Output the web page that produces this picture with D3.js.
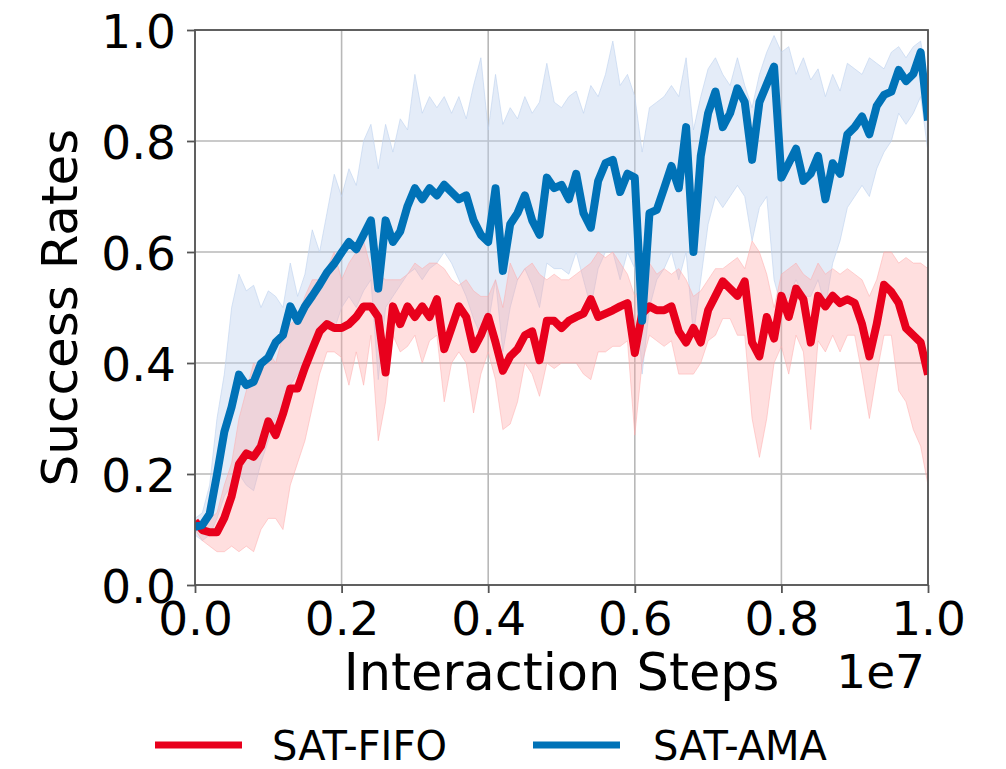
<!DOCTYPE html>
<html>
<head>
<meta charset="utf-8">
<script src="https://cdn.jsdelivr.net/npm/d3@7"></script>
<style>
  html, body { margin: 0; padding: 0; background: #ffffff; }
  svg { display: block; font-family: "DejaVu Sans", sans-serif; }
</style>
</head>
<body>
<svg id="chart" width="1006" height="769"></svg>
<script>
// Interaction steps (in millions)
const steps = [
  0.0,0.1,0.2,0.3,0.4,0.5,0.6,0.7,0.8,0.9,
  1.0,1.1,1.2,1.3,1.4,1.5,1.6,1.7,1.8,1.9,
  2.0,2.1,2.2,2.3,2.4,2.5,2.6,2.7,2.8,2.9,
  3.0,3.1,3.2,3.3,3.4,3.5,3.6,3.7,3.8,3.9,
  4.0,4.1,4.2,4.3,4.4,4.5,4.6,4.7,4.8,4.9,
  5.0,5.1,5.2,5.3,5.4,5.5,5.6,5.7,5.8,5.9,
  6.0,6.1,6.2,6.3,6.4,6.5,6.6,6.7,6.8,6.9,
  7.0,7.1,7.2,7.3,7.4,7.5,7.6,7.7,7.8,7.9,
  8.0,8.1,8.2,8.3,8.4,8.5,8.6,8.7,8.8,8.9,
  9.0,9.1,9.2,9.3,9.4,9.5,9.6,9.7,9.8,9.9,
  10.0
];

// SAT-FIFO (red)
const fifoMean = [
  .115,.099,.095,.095,.121,.160,.218,.237,.231,.250,
  .295,.270,.308,.354,.354,.392,.425,.457,.470,.463,
  .463,.470,.483,.502,.502,.483,.383,.502,.470,.502,
  .483,.502,.483,.515,.425,.463,.502,.483,.425,.450,
  .483,.437,.386,.412,.425,.450,.457,.405,.476,.476,
  .463,.476,.483,.489,.515,.483,.489,.495,.502,.508,
  .418,.489,.502,.495,.495,.502,.457,.437,.463,.437,
  .495,.521,.547,.534,.521,.547,.437,.412,.483,.444,
  .521,.483,.534,.515,.437,.521,.502,.521,.508,.515,
  .508,.470,.412,.470,.541,.528,.508,.463,.450,.437,
  .379
];
const fifoLow = [
  .10,.08,.07,.06,.06,.07,.06,.07,.06,.10,
  .12,.12,.10,.18,.22,.26,.32,.38,.42,.42,
  .41,.36,.42,.36,.45,.26,.33,.45,.42,.43,
  .45,.40,.44,.45,.33,.40,.42,.40,.31,.38,
  .42,.37,.28,.29,.33,.40,.38,.34,.40,.39,
  .40,.40,.40,.38,.37,.42,.42,.43,.43,.44,
  .27,.40,.45,.44,.43,.44,.38,.38,.38,.40,
  .44,.45,.48,.48,.45,.45,.30,.23,.30,.40,
  .43,.38,.45,.42,.28,.44,.42,.45,.42,.45,
  .45,.38,.30,.38,.45,.45,.35,.33,.28,.25,
  .18
];
const fifoHigh = [
  .12,.11,.12,.13,.18,.22,.30,.35,.40,.38,
  .42,.40,.45,.47,.48,.52,.55,.55,.57,.60,
  .55,.58,.60,.62,.57,.56,.55,.55,.55,.56,
  .58,.57,.58,.58,.57,.55,.54,.55,.53,.52,
  .52,.55,.50,.58,.55,.57,.58,.56,.55,.56,
  .55,.55,.56,.57,.58,.60,.59,.60,.58,.56,
  .52,.54,.58,.56,.57,.56,.57,.55,.52,.53,
  .55,.57,.57,.58,.59,.57,.62,.60,.56,.50,
  .56,.57,.58,.56,.55,.58,.56,.57,.56,.57,
  .56,.55,.52,.55,.60,.60,.58,.59,.58,.58,
  .57
];

// SAT-AMA (blue)
const amaMean = [
  .105,.108,.128,.199,.276,.321,.379,.360,.366,.399,
  .410,.437,.450,.502,.476,.502,.521,.541,.563,.579,
  .599,.618,.605,.631,.657,.534,.657,.618,.637,.683,
  .715,.695,.715,.702,.721,.708,.695,.702,.657,.631,
  .618,.715,.566,.650,.670,.702,.657,.631,.734,.715,
  .721,.695,.741,.670,.644,.728,.760,.766,.708,.741,
  .734,.476,.670,.676,.715,.755,.715,.825,.600,.773,
  .850,.889,.825,.850,.895,.870,.766,.870,.902,.934,
  .734,.760,.786,.728,.741,.773,.695,.760,.741,.812,
  .825,.844,.812,.863,.883,.889,.928,.908,.921,.960,
  .837
];
const amaLow = [
  .09,.08,.09,.12,.16,.18,.20,.18,.17,.22,
  .26,.30,.32,.36,.38,.40,.42,.44,.47,.46,
  .50,.52,.50,.53,.55,.37,.50,.52,.54,.56,
  .57,.55,.57,.58,.60,.58,.55,.52,.48,.45,
  .47,.55,.42,.50,.55,.57,.54,.50,.58,.57,
  .57,.56,.60,.55,.50,.57,.60,.60,.55,.60,
  .57,.38,.50,.55,.57,.60,.55,.60,.45,.55,
  .65,.70,.68,.70,.72,.70,.62,.68,.70,.55,
  .50,.52,.55,.52,.52,.55,.50,.58,.62,.68,
  .70,.72,.70,.75,.78,.80,.85,.83,.85,.88,
  .78
];
const amaHigh = [
  .12,.13,.18,.30,.38,.50,.56,.53,.54,.50,
  .53,.52,.50,.58,.52,.56,.64,.60,.67,.74,
  .70,.75,.72,.80,.83,.75,.83,.78,.84,.82,
  .92,.85,.88,.86,.88,.85,.88,.84,.90,.95,
  .82,.92,.83,.86,.84,.88,.85,.87,.94,.87,
  .86,.88,.89,.85,.90,.88,.92,.98,.90,.92,
  .88,.78,.86,.87,.88,.90,.88,.95,.82,.88,
  .93,.95,.92,.90,.95,.90,.86,.92,.96,.99,
  .96,.97,.92,.95,.91,.93,.88,.92,.89,.94,
  .93,.92,.95,.94,.93,.96,.97,.95,.97,.98,
  .90
];

const xTicks = [0, 2e6, 4e6, 6e6, 8e6, 1e7];
const xTickLabels = ["0.0", "0.2", "0.4", "0.6", "0.8", "1.0"];
const yTicks = [0, 0.2, 0.4, 0.6, 0.8, 1.0];
const yTickLabels = ["0.0", "0.2", "0.4", "0.6", "0.8", "1.0"];
const seriesNames = ["SAT-FIFO", "SAT-AMA"];

(function draw() {
  const svg = d3.select("#chart");
  const pL = 195, pR = 928, pT = 30, pB = 585;
  const x = d3.scaleLinear().domain([0, 1e7]).range([pL, pR]);
  const y = d3.scaleLinear().domain([0, 1]).range([pB, pT]);

  const red = "#e8001c", blue = "#0072b7";

  svg.append("defs").append("clipPath").attr("id", "clip")
    .append("rect").attr("x", pL).attr("y", pT).attr("width", pR - pL).attr("height", pB - pT);

  // grid
  const grid = svg.append("g");
  grid.selectAll("line.gx").data(xTicks).join("line").attr("class", "gx")
    .attr("x1", d => x(d)).attr("x2", d => x(d)).attr("y1", pT).attr("y2", pB)
    .attr("stroke", "#b8b8b8").attr("stroke-width", 1.6);
  grid.selectAll("line.gy").data(yTicks).join("line").attr("class", "gy")
    .attr("x1", pL).attr("x2", pR).attr("y1", d => y(d)).attr("y2", d => y(d))
    .attr("stroke", "#b8b8b8").attr("stroke-width", 1.6);

  const plot = svg.append("g").attr("clip-path", "url(#clip)");

  function series(mean, lo, hi) {
    return steps.map((s, i) => ({ x: s * 1e6, m: mean[i], lo: lo[i], hi: hi[i] }));
  }
  const fifo = series(fifoMean, fifoLow, fifoHigh);
  const ama = series(amaMean, amaLow, amaHigh);

  const area = d3.area().x(d => x(d.x)).y0(d => y(d.lo)).y1(d => y(d.hi));
  const line = d3.line().x(d => x(d.x)).y(d => y(d.m));

  plot.append("path").datum(ama).attr("d", area)
    .attr("fill", "rgb(190,210,238)").attr("fill-opacity", 0.42)
    .attr("stroke", "rgb(190,210,238)").attr("stroke-opacity", 0.6).attr("stroke-width", 1);
  plot.append("path").datum(fifo).attr("d", area)
    .attr("fill", "rgb(255,165,165)").attr("fill-opacity", 0.36)
    .attr("stroke", "rgb(255,170,170)").attr("stroke-opacity", 0.5).attr("stroke-width", 1);

  plot.append("path").datum(fifo).attr("d", line)
    .attr("fill", "none").attr("stroke", red).attr("stroke-width", 8)
    .attr("stroke-linejoin", "round");
  plot.append("path").datum(ama).attr("d", line)
    .attr("fill", "none").attr("stroke", blue).attr("stroke-width", 8)
    .attr("stroke-linejoin", "round");

  // spines
  svg.append("rect").attr("x", pL).attr("y", pT).attr("width", pR - pL).attr("height", pB - pT)
    .attr("fill", "none").attr("stroke", "#555").attr("stroke-width", 1.8);

  // axes
  const fs = 47;
  const xAxis = d3.axisBottom(x).tickValues(xTicks).tickSize(8).tickPadding(10)
    .tickFormat((d, i) => xTickLabels[i]);
  const gx = svg.append("g").attr("transform", `translate(0,${pB})`).call(xAxis);
  gx.select(".domain").remove();
  gx.selectAll(".tick line").attr("stroke", "#555").attr("stroke-width", 1.8);
  gx.selectAll(".tick text").attr("font-size", fs).attr("font-family", "DejaVu Sans")
    .attr("fill", "#000").attr("dy", null).attr("y", 50);

  const yAxis = d3.axisLeft(y).tickValues(yTicks).tickSize(8).tickPadding(10)
    .tickFormat((d, i) => yTickLabels[i]);
  const gy = svg.append("g").attr("transform", `translate(${pL},0)`).call(yAxis);
  gy.select(".domain").remove();
  gy.selectAll(".tick line").attr("stroke", "#555").attr("stroke-width", 1.8);
  gy.selectAll(".tick text").attr("font-size", fs).attr("font-family", "DejaVu Sans")
    .attr("fill", "#000").attr("dy", null).attr("y", 0.3645 * fs).attr("x", -19);

  // labels
  svg.append("text").attr("x", (pL + pR) / 2).attr("y", 690).attr("text-anchor", "middle")
    .attr("font-size", 51).text("Interaction Steps");
  svg.append("text").attr("x", 925).attr("y", 688).attr("text-anchor", "end")
    .attr("font-size", fs).text("1e7");
  svg.append("text").attr("transform", `translate(77,${(pT + pB) / 2}) rotate(-90)`)
    .attr("text-anchor", "middle").attr("font-size", 50).text("Success Rates");

  // legend
  const legend = svg.append("g");
  const legendItems = [
    { name: seriesNames[0], color: red, x0: 155, tx: 272 },
    { name: seriesNames[1], color: blue, x0: 533, tx: 653 }
  ];
  legendItems.forEach(it => {
    legend.append("line").attr("x1", it.x0).attr("x2", it.x0 + 87).attr("y1", 745).attr("y2", 745)
      .attr("stroke", it.color).attr("stroke-width", 7);
    legend.append("text").attr("x", it.tx).attr("y", 760).attr("font-size", 40).text(it.name);
  });
})();
</script>
</body>
</html>
